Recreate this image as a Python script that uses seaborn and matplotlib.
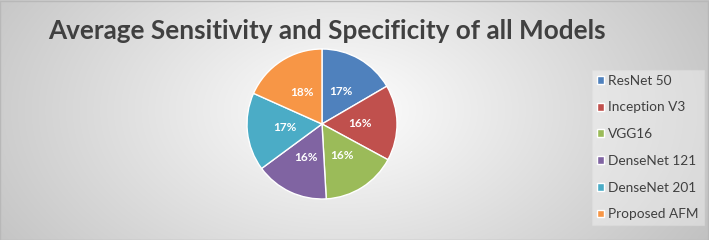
import matplotlib
matplotlib.use("Agg")
import matplotlib.pyplot as plt
import numpy as np
import seaborn as sns

models = ["ResNet 50", "Inception V3", "VGG16", "DenseNet 121", "DenseNet 201", "Proposed AFM"]
shares = [16.6, 16.3, 16.2, 15.8, 16.8, 18.3]
colors = ["#4F81BD", "#C0504D", "#9BBB59", "#8064A2", "#4BACC6", "#F79646"]
title = "Average Sensitivity and Specificity of all Models"

sns.set_theme(style="white")
plt.rcParams["font.family"] = ["Lato", "DejaVu Sans"]

fig = plt.figure(figsize=(7.09, 2.40), dpi=100)

# radial gradient background
bg = fig.add_axes([0, 0, 1, 1])
yy, xx = np.mgrid[0:240, 0:709]
d = np.sqrt(((xx - 340) / 420.0) ** 2 + ((yy - 110) / 260.0) ** 2)
shade = np.clip(1.0 - 0.24 * d, 0, 1)
bg.imshow(np.dstack([shade] * 3), aspect="auto", extent=[0, 709, 240, 0])
bg.plot([0, 708, 708, 0, 0], [0.5, 0.5, 239.5, 239.5, 0.5], color="#b8b8b8", lw=1)
bg.set_xlim(0, 709)
bg.set_ylim(240, 0)
bg.axis("off")

fig.text(48 / 709, 1 - 31 / 240, title, fontsize=18.8, fontweight="bold",
         color="#404040", va="center", ha="left")

ax = fig.add_axes([(322 - 75) / 709, 1 - (124 + 75) / 240, 150 / 709, 150 / 240])
wedges, _, autotexts = ax.pie(shares, colors=colors, startangle=90, counterclock=False,
                              autopct="%1.0f%%", pctdistance=0.5,
                              textprops=dict(color="white", fontsize=8.5, fontweight="bold"))
ax.set_xlim(-1, 1)
ax.set_ylim(-1, 1)
ax.set_aspect("equal")

leg = fig.legend(wedges, models, loc="upper left", bbox_to_anchor=(592 / 709, 1 - 70 / 240),
                 frameon=True, fontsize=9.8, handlelength=0.5, handleheight=0.5,
                 handletextpad=0.35, labelspacing=1.08, borderpad=0.35, borderaxespad=0,
                 labelcolor="#404040")
leg.get_frame().set_facecolor("white")
leg.get_frame().set_alpha(0.35)
leg.get_frame().set_edgecolor("#e0e0e0")
leg.get_frame().set_boxstyle("square", pad=0)

fig.savefig("out.png", dpi=100)
